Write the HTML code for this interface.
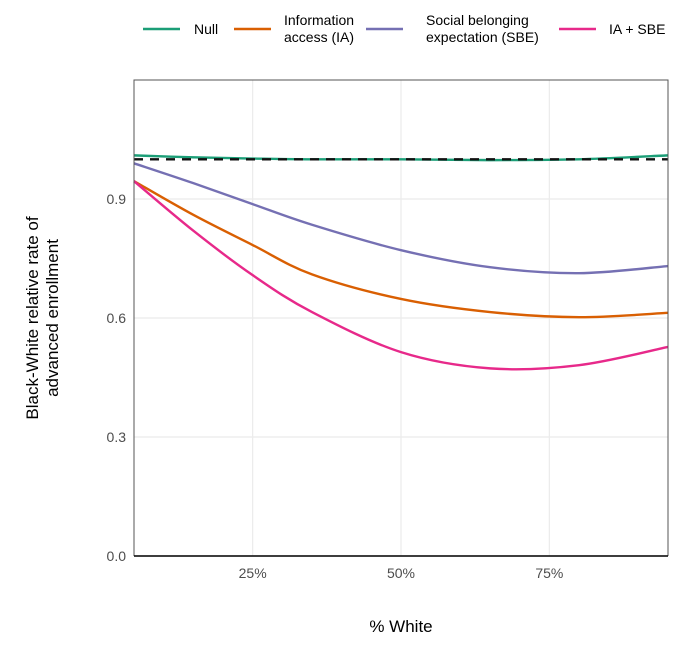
<!DOCTYPE html>
<html><head><meta charset="utf-8"><style>
body{margin:0;background:#fff;font-family:"Liberation Sans",Arial,sans-serif}
</style></head><body>
<svg id="chart" width="683" height="647" xmlns="http://www.w3.org/2000/svg" font-family="Liberation Sans, Arial, sans-serif">
<g id="legend"></g>
<g id="grid"></g>
<g id="series"></g>
<g id="axes"></g>
<text x="401" y="632" text-anchor="middle" font-size="17" fill="#000">% White</text>
<text transform="translate(42,318) rotate(-90)" text-anchor="middle" font-size="17" fill="#000"><tspan x="0" dy="-4">Black-White relative rate of</tspan><tspan x="0" dy="20">advanced enrollment</tspan></text>
</svg>
<script>
const xVals=[5,15,25,35,50,65,80,95];
const nullVals=[1.01,1.005,1.002,1.0,1.0,0.998,1.0,1.01];
const iaVals=[0.945,0.86,0.784,0.71,0.648,0.615,0.602,0.613];
const sbeVals=[0.99,0.94,0.887,0.835,0.771,0.728,0.713,0.731];
const bothVals=[0.945,0.82,0.708,0.615,0.514,0.473,0.481,0.527];
const yTicks=[0,0.3,0.6,0.9];
const yTickLabels=["0.0","0.3","0.6","0.9"];
const xTicks=[25,50,75];
const xTickLabels=["25%","50%","75%"];
const seriesNames=["Null","Information access (IA)","Social belonging expectation (SBE)","IA + SBE"];
const colors=["#1b9e77","#d95f02","#7570b3","#e7298a"];
const L=134,R=668,T=80,B=556;
const X=v=>L+(v-5)/90*(R-L);
const Y=v=>B-v/1.2*(B-T);
const NS="http://www.w3.org/2000/svg";
function mk(tag,attrs,parent){const e=document.createElementNS(NS,tag);for(const k in attrs)e.setAttribute(k,attrs[k]);parent.appendChild(e);return e;}
const grid=document.getElementById('grid'),axes=document.getElementById('axes'),ser=document.getElementById('series'),leg=document.getElementById('legend');
yTicks.forEach((t,i)=>{
 const l=mk('line',{x1:L,x2:R,y1:Y(t),y2:Y(t),stroke:'#ebebeb','stroke-width':1.2},grid);
 
 const tx=mk('text',{x:L-8,y:Y(t)+5,'text-anchor':'end','font-size':14,fill:'#4d4d4d'},axes);
 tx.textContent=yTickLabels[i];
 
});
xTicks.forEach((t,i)=>{
 const l=mk('line',{x1:X(t),x2:X(t),y1:T,y2:B,stroke:'#ebebeb','stroke-width':1.2},grid);
 
 const tx=mk('text',{x:X(t),y:B+22,'text-anchor':'middle','font-size':14,fill:'#4d4d4d'},axes);
 tx.textContent=xTickLabels[i];
 
});
const fr=mk('path',{d:`M${L},${B}V${T}H${R}V${B}`,fill:'none',stroke:'#555','stroke-width':1},axes);

const bl=mk('line',{x1:L,x2:R,y1:B,y2:B,stroke:'#000','stroke-width':1.5},axes);

function smooth(vals){
 const p=xVals.map((x,i)=>[X(x),Y(vals[i])]);
 let d=`M${p[0][0]},${p[0][1]}`;
 for(let i=0;i<p.length-1;i++){
  const p0=p[Math.max(0,i-1)],p1=p[i],p2=p[i+1],p3=p[Math.min(p.length-1,i+2)];
  const c1=[p1[0]+(p2[0]-p0[0])/6,p1[1]+(p2[1]-p0[1])/6],c2=[p2[0]-(p3[0]-p1[0])/6,p2[1]-(p3[1]-p1[1])/6];
  d+=`C${c1[0]},${c1[1]} ${c2[0]},${c2[1]} ${p2[0]},${p2[1]}`;
 }
 return d;
}
[nullVals,iaVals,sbeVals,bothVals].forEach((vals,i)=>{
 const p=mk('path',{d:smooth(vals),fill:'none',stroke:colors[i],'stroke-width':2.4},ser);
 
});
const ref=mk('line',{x1:L,x2:R,y1:Y(1),y2:Y(1),stroke:'#111','stroke-width':2.4,'stroke-dasharray':'9,7'},ser);

const legItems=[{x:143,lines:["Null"],tx:194},{x:234,lines:["Information","access (IA)"],tx:284},{x:366,lines:["Social belonging","expectation (SBE)"],tx:426},{x:559,lines:["IA + SBE"],tx:609}];
legItems.forEach((it,i)=>{
 const g=mk('g',{},leg);
 
 mk('line',{x1:it.x,x2:it.x+37,y1:29,y2:29,stroke:colors[i],'stroke-width':2.4},g);
 const t=mk('text',{x:it.tx,y:it.lines.length>1?25:34,'font-size':14,fill:'#000'},g);
 it.lines.forEach((s,j)=>{const ts=mk('tspan',{x:it.tx,dy:j?17:0},t);ts.textContent=s;});
});
</script>
</body></html>
